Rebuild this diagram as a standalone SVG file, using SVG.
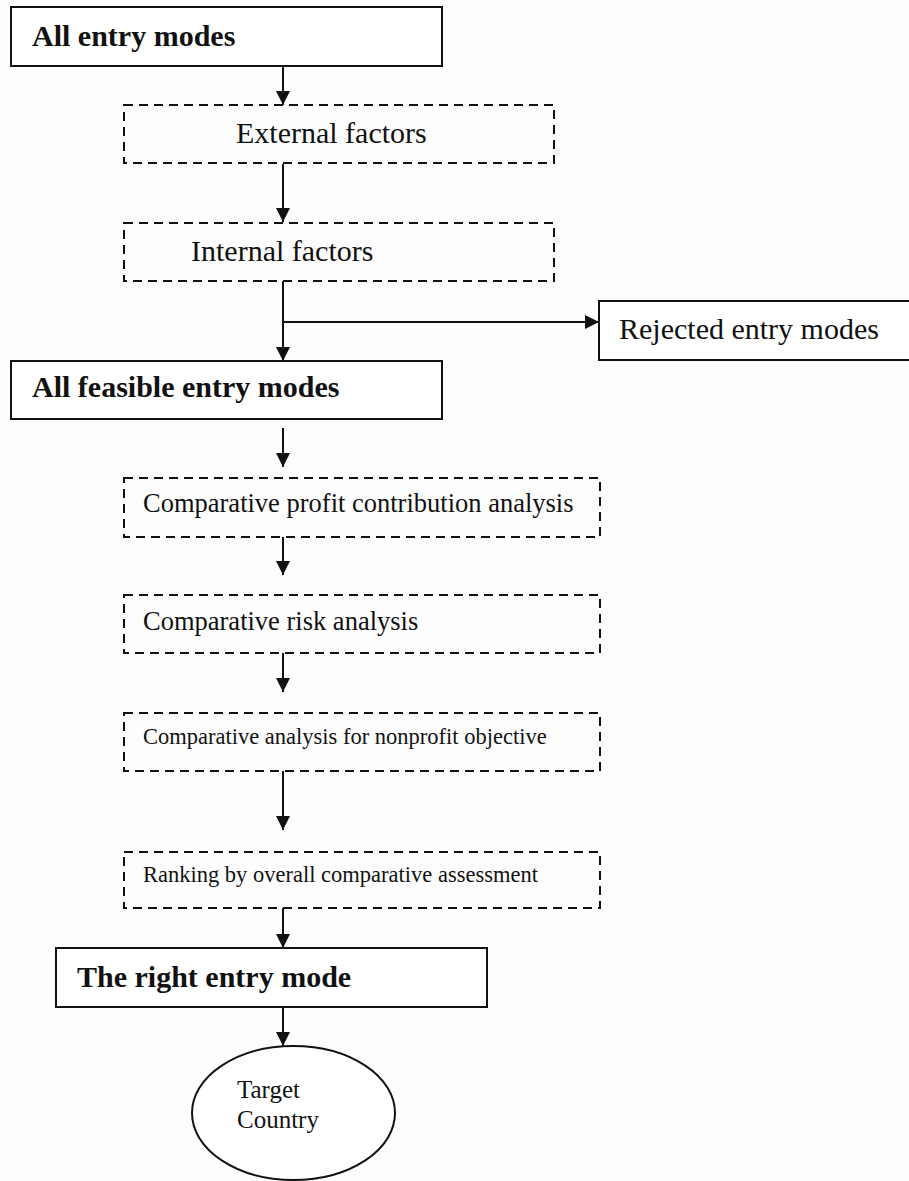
<svg xmlns="http://www.w3.org/2000/svg" width="909" height="1181" viewBox="0 0 909 1181">
<style>
.solid{fill:#fff;stroke:#111;stroke-width:2}
.dash{fill:none;stroke:#111;stroke-width:2;stroke-dasharray:9 6}
.t{font-family:"Liberation Serif","Times New Roman",serif;fill:#111}
.b{font-weight:bold;font-size:30px}
.r30{font-size:30px}
.r26{font-size:26.5px}
.r22{font-size:22.5px}
.r25{font-size:25px}
.c{fill:none;stroke:#111;stroke-width:2}
</style>
<defs>
<marker id="ah" markerWidth="14" markerHeight="14" viewBox="0 0 14 14" refX="14" refY="7" orient="auto" markerUnits="userSpaceOnUse">
<path d="M0,0 L14,7 L0,14 Z" fill="#111"/>
</marker>
</defs>
<rect width="909" height="1181" fill="#fdfdfd"/>
<g id="connectors">
<line class="c" x1="283" y1="66" x2="283" y2="105" marker-end="url(#ah)"/>
<line class="c" x1="283" y1="164" x2="283" y2="222" marker-end="url(#ah)"/>
<line class="c" x1="283" y1="281" x2="283" y2="361" marker-end="url(#ah)"/>
<line class="c" x1="283" y1="322" x2="599" y2="322" marker-end="url(#ah)"/>
<line class="c" x1="283" y1="428" x2="283" y2="467" marker-end="url(#ah)"/>
<line class="c" x1="283" y1="537" x2="283" y2="575" marker-end="url(#ah)"/>
<line class="c" x1="283" y1="653" x2="283" y2="692" marker-end="url(#ah)"/>
<line class="c" x1="283" y1="771" x2="283" y2="830" marker-end="url(#ah)"/>
<line class="c" x1="283" y1="908" x2="283" y2="948" marker-end="url(#ah)"/>
<line class="c" x1="283" y1="1007" x2="283" y2="1046" marker-end="url(#ah)"/>
</g>
<g id="all-entry-modes">
<rect class="solid" x="11" y="7" width="431" height="59"/>
<text class="t b" x="32" y="46">All entry modes</text>
</g>
<g id="external-factors">
<rect class="dash" x="124" y="105" width="430" height="58"/>
<text class="t r30" x="236" y="143">External factors</text>
</g>
<g id="internal-factors">
<rect class="dash" x="124" y="223" width="430" height="58"/>
<text class="t r30" x="191" y="261">Internal factors</text>
</g>
<g id="rejected-entry-modes">
<rect class="solid" x="599" y="301" width="312" height="59"/>
<text class="t r30" x="619" y="339">Rejected entry modes</text>
</g>
<g id="all-feasible-entry-modes">
<rect class="solid" x="11" y="361" width="431" height="58"/>
<text class="t b" x="32" y="397">All feasible entry modes</text>
</g>
<g id="profit-analysis">
<rect class="dash" x="124" y="478" width="476" height="59"/>
<text class="t r26" x="143" y="512">Comparative profit contribution analysis</text>
</g>
<g id="risk-analysis">
<rect class="dash" x="124" y="595" width="476" height="58"/>
<text class="t r26" x="143" y="630">Comparative risk analysis</text>
</g>
<g id="nonprofit-analysis">
<rect class="dash" x="124" y="713" width="476" height="58"/>
<text class="t r22" x="143" y="744">Comparative analysis for nonprofit objective</text>
</g>
<g id="ranking">
<rect class="dash" x="124" y="852" width="476" height="56"/>
<text class="t r22" x="143" y="882">Ranking by overall comparative assessment</text>
</g>
<g id="right-entry-mode">
<rect class="solid" x="56" y="948" width="431" height="59"/>
<text class="t b" x="77" y="987">The right entry mode</text>
</g>
<g id="target-country">
<ellipse class="solid" cx="293.5" cy="1113" rx="101.5" ry="67"/>
<text class="t r25" x="237" y="1098">Target</text>
<text class="t r25" x="237" y="1128">Country</text>
</g>
</svg>
